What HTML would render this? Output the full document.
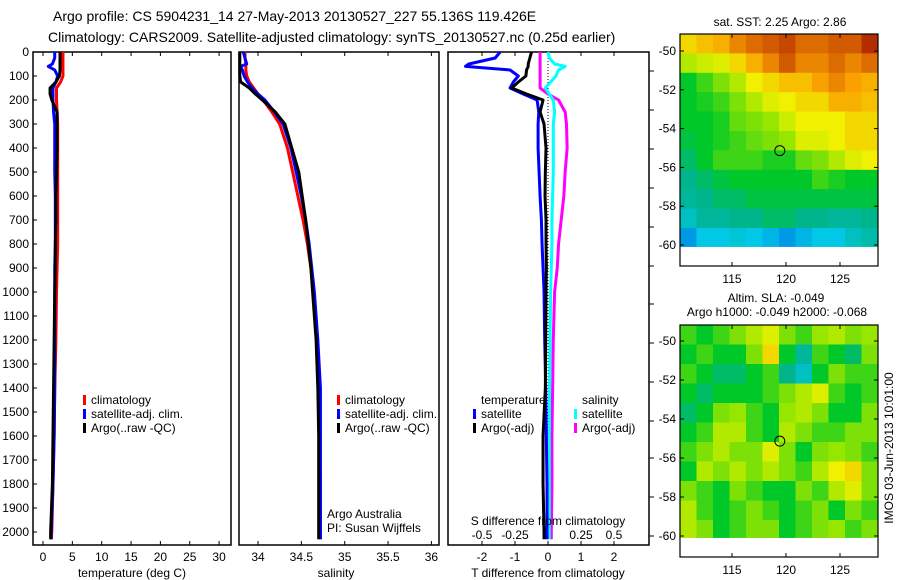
<!DOCTYPE html>
<html><head><meta charset="utf-8"><style>
body{margin:0;background:#fff;}
svg{display:block;font-family:"Liberation Sans",sans-serif;}
</style></head><body>
<svg id="c" width="900" height="580" viewBox="0 0 900 580">
<text x="53" y="21" font-size="14">Argo profile: CS 5904231_14 27-May-2013 20130527_227 55.136S 119.426E</text>
<text x="48" y="42" font-size="14">Climatology: CARS2009. Satellite-adjusted climatology: synTS_20130527.nc (0.25d earlier)</text>
</svg>
<script>
const depths=[0,25,50,60,75,100,125,150,175,200,250,300,400,500,600,700,800,900,1000,1200,1400,1600,1800,2000,2030];
const tClim=[3.4,3.4,3.4,3.4,3.4,3.4,3.0,2.3,2.3,2.3,2.4,2.5,2.5,2.5,2.5,2.5,2.5,2.4,2.3,2.2,2.0,1.9,1.7,1.5,1.4];
const tArgo=[2.9,2.9,2.9,2.9,2.9,2.8,2.2,1.2,1.2,1.5,2.4,2.4,2.4,2.3,2.2,2.2,2.1,2.1,2.0,1.9,1.8,1.7,1.6,1.3,1.3];
const tSat=[2.0,2.0,1.6,0.9,2.0,2.5,2.2,1.7,1.7,1.7,1.8,2.0,2.0,2.0,2.1,2.1,2.1,2.0,2.0,2.0,2.0,1.9,1.7,1.4,1.4];
const sClim=[33.85,33.85,33.86,33.86,33.86,33.87,33.9,33.95,34.0,34.06,34.16,34.25,34.34,34.40,34.46,34.52,34.57,34.61,34.64,34.68,34.70,34.71,34.72,34.72,34.72];
const sArgo=[33.79,33.79,33.79,33.79,33.79,33.79,33.8,33.9,33.97,34.05,34.2,34.31,34.39,34.47,34.51,34.55,34.58,34.61,34.63,34.67,34.69,34.70,34.70,34.70,34.70];
const sSat=[33.83,33.85,33.87,33.80,33.82,33.84,33.88,33.93,34.0,34.08,34.19,34.29,34.38,34.44,34.50,34.55,34.59,34.62,34.65,34.69,34.72,34.72,34.72,34.72,34.72];
const dTSat=[-1.45,-1.6,-2.4,-2.5,-1.15,-0.9,-1.05,-1.15,-0.75,-0.33,-0.28,-0.3,-0.3,-0.27,-0.24,-0.2,-0.18,-0.15,-0.12,-0.1,-0.07,-0.05,-0.03,-0.03,-0.03];
const dTArgo=[-0.5,-0.55,-0.6,-0.6,-0.65,-0.67,-0.9,-1.1,-0.65,-0.15,-0.24,-0.12,-0.06,-0.08,-0.09,-0.06,-0.06,-0.05,-0.06,-0.07,-0.08,-0.15,-0.15,-0.12,-0.12];
const dSArgo=[-0.06,-0.06,-0.06,-0.06,-0.06,-0.06,-0.06,-0.06,0.0,0.08,0.13,0.14,0.145,0.13,0.12,0.1,0.08,0.07,0.05,0.04,0.035,0.03,0.03,0.025,0.025];
const dSSat=[0.0,0.01,0.05,0.13,0.08,0.06,0.02,-0.02,0.01,0.04,0.05,0.04,0.04,0.04,0.035,0.03,0.03,0.025,0.02,0.015,0.012,0.01,0.01,0.01,0.01];
const depthTicks=[0,100,200,300,400,500,600,700,800,900,1000,1100,1200,1300,1400,1500,1600,1700,1800,1900,2000];
const tTicks=[0,5,10,15,20,25,30];
const sTicks=[34,34.5,35,35.5,36];
const dTTicks=[-2,-1,0,1,2];
const dSTicks=[-0.5,-0.25,0,0.25,0.5];
const dSTickLabels=["-0.5","-0.25","0","0.25","0.5"];
const lonTicks=[115,120,125];
const latTicks=[-50,-52,-54,-56,-58,-60];
const sstGrid=[
[0.75,0.78,0.8,0.85,0.88,0.9,0.92,0.88,0.88,0.9,0.9,0.95],
[0.65,0.68,0.7,0.75,0.8,0.85,0.9,0.85,0.85,0.88,0.85,0.88],
[0.5,0.55,0.6,0.65,0.72,0.75,0.78,0.78,0.82,0.85,0.82,0.8],
[0.5,0.52,0.55,0.6,0.65,0.7,0.72,0.75,0.75,0.8,0.8,0.78],
[0.5,0.5,0.52,0.58,0.6,0.62,0.68,0.72,0.72,0.72,0.75,0.75],
[0.48,0.5,0.52,0.55,0.58,0.6,0.62,0.7,0.7,0.72,0.75,0.75],
[0.45,0.5,0.55,0.55,0.55,0.52,0.52,0.58,0.6,0.65,0.7,0.72],
[0.42,0.45,0.48,0.5,0.5,0.5,0.5,0.5,0.55,0.52,0.5,0.5],
[0.4,0.42,0.45,0.45,0.48,0.48,0.48,0.48,0.48,0.48,0.48,0.48],
[0.35,0.4,0.4,0.42,0.42,0.45,0.45,0.42,0.42,0.4,0.4,0.42],
[0.25,0.3,0.3,0.32,0.3,0.28,0.25,0.28,0.3,0.3,0.35,0.38]];
const slaGrid=[
[0.55,0.5,0.55,0.6,0.65,0.7,0.6,0.55,0.62,0.65,0.6,0.62],
[0.5,0.55,0.5,0.5,0.6,0.75,0.5,0.4,0.55,0.5,0.45,0.6],
[0.55,0.5,0.45,0.45,0.5,0.55,0.42,0.35,0.5,0.6,0.55,0.55],
[0.5,0.45,0.5,0.5,0.5,0.55,0.6,0.65,0.7,0.55,0.5,0.55],
[0.45,0.5,0.6,0.62,0.55,0.5,0.62,0.65,0.6,0.5,0.5,0.6],
[0.5,0.55,0.65,0.65,0.55,0.5,0.65,0.6,0.55,0.55,0.6,0.6],
[0.55,0.6,0.65,0.6,0.6,0.7,0.6,0.5,0.6,0.62,0.6,0.55],
[0.5,0.65,0.6,0.65,0.6,0.65,0.6,0.55,0.65,0.72,0.75,0.6],
[0.6,0.55,0.5,0.6,0.55,0.5,0.5,0.6,0.55,0.65,0.7,0.6],
[0.65,0.55,0.5,0.55,0.6,0.55,0.5,0.55,0.6,0.5,0.6,0.55],
[0.65,0.6,0.5,0.55,0.6,0.6,0.5,0.55,0.6,0.62,0.55,0.6]];
const floatLon=119.426, floatLat=-55.136;

const svg=document.getElementById('c');
const NS='http://www.w3.org/2000/svg';
function mk(tag,a){const e=document.createElementNS(NS,tag);for(const k in a)e.setAttribute(k,a[k]);svg.appendChild(e);return e;}
function tx(x,y,s,size,anchor){const e=mk('text',{x:x,y:y,'font-size':size||12,'text-anchor':anchor||'start'});e.textContent=s;return e;}
const yD=d=>52+d*0.24;
const xT=v=>43+v*5.87;
const xS=v=>258+(v-34)*86.7;
const xDT=v=>548+v*33;
const xDS=v=>548+v*132;
const TOP=52,BOT=545;
function frame(x0,x1,name){const r=mk('rect',{x:x0,y:TOP,width:x1-x0,height:BOT-TOP,fill:'none',stroke:'#000','stroke-width':1.5});

}
function line(xs,xf,color,name){const p=mk('polyline',{points:depths.map((d,i)=>xf(xs[i])+','+yD(d)).join(' '),fill:'none',stroke:color,'stroke-width':3,'stroke-linejoin':'round'});

}
// panel 1
frame(33,231,'temperature-panel');
depthTicks.forEach(d=>{mk('line',{x1:33,x2:37,y1:yD(d),y2:yD(d),stroke:'#000'});const t=tx(29,yD(d)+4,String(d),12,'end');

});
tTicks.forEach(v=>{const x=xT(v);mk('line',{x1:x,x2:x,y1:TOP,y2:TOP+4,stroke:'#000'});mk('line',{x1:x,x2:x,y1:BOT,y2:BOT-4,stroke:'#000'});const t=tx(x,561,String(v),12,'middle');

});
line(tClim,xT,'#f00','temperature-climatology-line');
line(tSat,xT,'#00f','temperature-satellite-line');
line(tArgo,xT,'#000','temperature-argo-line');
let lab=tx(132,577,'temperature (deg C)',12,'middle');


function legend(x,y,color,s,name){mk('rect',{x:x,y:y-9,width:3,height:10,fill:color});const t=tx(x+8,y,s,12);

}
legend(83,404,'#f00','climatology','legend-climatology');
legend(83,418,'#00f','satellite-adj. clim.','legend-satellite-adj');
legend(83,432,'#000','Argo(..raw -QC)','legend-argo-raw');
// panel 2
frame(239,439,'salinity-panel');
sTicks.forEach(v=>{const x=xS(v);mk('line',{x1:x,x2:x,y1:TOP,y2:TOP+4,stroke:'#000'});mk('line',{x1:x,x2:x,y1:BOT,y2:BOT-4,stroke:'#000'});const t=tx(x,561,String(v),12,'middle');

});
line(sClim,xS,'#f00','salinity-climatology-line');
line(sSat,xS,'#00f','salinity-satellite-line');
line(sArgo,xS,'#000','salinity-argo-line');
lab=tx(336,577,'salinity',12,'middle');


legend(337,404,'#f00','climatology','legend2-climatology');
legend(337,418,'#00f','satellite-adj. clim.','legend2-satellite-adj');
legend(337,432,'#000','Argo(..raw -QC)','legend2-argo-raw');
lab=tx(327,518,'Argo Australia',12);


lab=tx(327,532,'PI: Susan Wijffels',12);


// panel 3
frame(448,649,'difference-panel');
dTTicks.forEach(v=>{const x=xDT(v);mk('line',{x1:x,x2:x,y1:TOP,y2:TOP+4,stroke:'#000'});const t=tx(x,561,String(v),12,'middle');

});
dSTicks.forEach((v,i)=>{const x=xDS(v);mk('line',{x1:x,x2:x,y1:BOT,y2:BOT-4,stroke:'#000'});const t=tx(x,539,dSTickLabels[i],12,'middle');

});
mk('line',{x1:548,x2:548,y1:TOP,y2:BOT,stroke:'#000','stroke-dasharray':'1,2'});
line(dSArgo,xDS,'#f0f','salinity-argo-diff-line');
line(dSSat,xDS,'#0ff','salinity-satellite-diff-line');
line(dTSat,xDT,'#00f','temperature-satellite-diff-line');
line(dTArgo,xDT,'#000','temperature-argo-diff-line');
lab=tx(548,525,'S difference from climatology',12,'middle');


lab=tx(548,577,'T difference from climatology',12,'middle');


lab=tx(481,404,'temperature',12);


lab=tx(582,404,'salinity',12);


legend(473,418,'#00f','satellite','legend-t-satellite');
legend(473,432,'#000','Argo(-adj)','legend-t-argo');
legend(574,418,'#0ff','satellite','legend-s-satellite');
legend(574,432,'#f0f','Argo(-adj)','legend-s-argo');
[536,497,458,421,382,343,304,266,227,188,149,110,71].forEach(y=>mk('line',{x1:649,x2:654,y1:y,y2:y,stroke:'#000'}));
// maps
function cmap(v){const stops=[[0,[0,0,140]],[0.15,[0,60,230]],[0.3,[0,200,230]],[0.42,[0,180,140]],[0.5,[0,200,40]],[0.62,[150,230,0]],[0.72,[240,240,0]],[0.82,[250,160,0]],[0.9,[210,90,0]],[1,[150,0,0]]];
for(let i=1;i<stops.length;i++){if(v<=stops[i][0]){const a=stops[i-1],b=stops[i],f=(v-a[0])/(b[0]-a[0]);return 'rgb('+a[1].map((c,k)=>Math.round(c+(b[1][k]-c)*f)).join(',')+')';}}return 'rgb(150,0,0)';}
function map(grid,x0,x1,y0,y1,lat50,lat60,name){
 const xL=lon=>732+(lon-115)*10.8;
 const pxPerDeg=(lat60-lat50)/10;
 const yL=lat=>lat50+(-50-lat)*pxPerDeg;
 const lonMin=(x0-732)/10.8+115,lonMax=(x1-732)/10.8+115;
 const latTop=-50-(y0-lat50)/pxPerDeg;
 const cw=(lonMax-lonMin)/grid[0].length;
 grid.forEach((row,r)=>row.forEach((v,c)=>{const la=latTop-r,lo=lonMin+c*cw;
  const cell=mk('rect',{x:xL(lo),y:yL(la),width:cw*10.8+0.5,height:pxPerDeg+0.5,fill:cmap(v)});
  
  }));
 mk('rect',{x:x0,y:yL(-60.1),width:x1-x0,height:y1-yL(-60.1),fill:'#fff'});
 const fr=mk('rect',{x:x0,y:y0,width:x1-x0,height:y1-y0,fill:'none',stroke:'#000','stroke-width':1.2});
 
 
 latTicks.forEach(l=>{const y=yL(l);mk('line',{x1:x0,x2:x0+4,y1:y,y2:y,stroke:'#000'});mk('line',{x1:x1,x2:x1-4,y1:y,y2:y,stroke:'#000'});const t=tx(x0-4,y+4,String(l),12,'end');
  
  });
 lonTicks.forEach(l=>{const x=xL(l);mk('line',{x1:x,x2:x,y1:y0,y2:y0+4,stroke:'#000'});mk('line',{x1:x,x2:x,y1:y1,y2:y1-4,stroke:'#000'});const t=tx(x,y1+17,String(l),12,'middle');
  
  });
 const m=mk('circle',{cx:xL(floatLon),cy:yL(floatLat),r:5,fill:'none',stroke:'#000','stroke-width':1});
 
 
}
map(sstGrid,680,878,34,266,51,245,'sst-map');
map(slaGrid,680,878,325,557,341,536,'sla-map');
lab=tx(780,26,'sat. SST: 2.25 Argo: 2.86',12,'middle');


lab=tx(776,302,'Altim. SLA: -0.049',12,'middle');


lab=tx(777,316,'Argo h1000: -0.049 h2000: -0.068',12,'middle');


lab=tx(0,0,'IMOS 03-Jun-2013 10:01:00',12,'middle');
lab.setAttribute('transform','translate(893,448) rotate(-90)');


</script>
</body></html>
